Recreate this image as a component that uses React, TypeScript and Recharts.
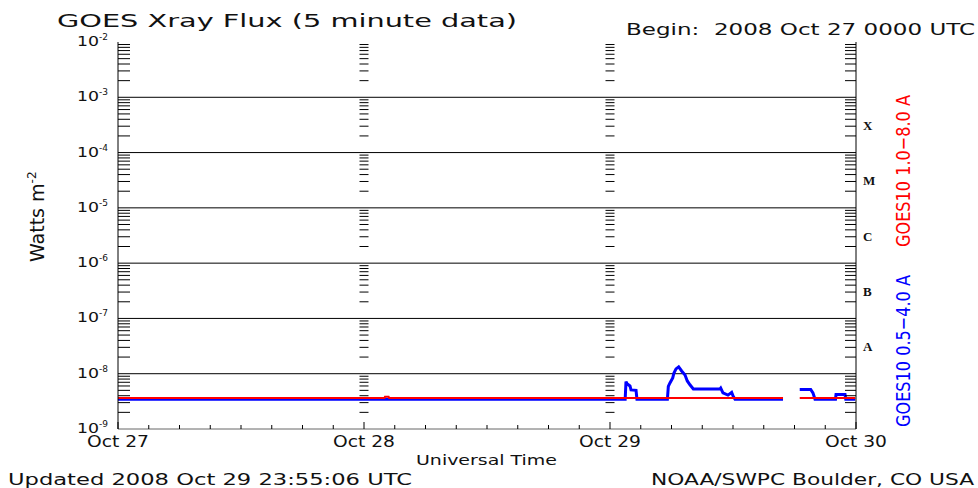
import { LineChart, Line, XAxis, YAxis, ReferenceLine, ReferenceDot } from 'recharts';

const WIDTH = 978;
const HEIGHT = 488;
const FONT = 'DejaVu Sans';
const INK = '#111';

// x values are hours since 2008 Oct 27 0000 UTC
const DAY_LABELS = ['Oct 27', 'Oct 28', 'Oct 29', 'Oct 30'];
const HOUR_TICKS = [
  0, 3, 6, 9, 12, 15, 18, 21, 24, 27, 30, 33, 36, 39, 42, 45, 48,
  51, 54, 57, 60, 63, 66, 69, 72,
];
const DECADES = [1e-9, 1e-8, 1e-7, 1e-6, 1e-5, 1e-4, 1e-3, 1e-2];
const FLARE_CLASSES = ['A', 'B', 'C', 'M', 'X'];
const CLASS_LEVELS = [3.16e-8, 3.16e-7, 3.16e-6, 3.16e-5, 3.16e-4];

// GOES10 0.5-4.0 A channel (null = data gap)
const shortHours = [
  0, 49.48, 49.56, 49.66, 49.95, 50.05, 50.54, 50.63,
  53.6, 53.69, 53.85, 54.12, 54.24, 54.44, 54.7, 54.99, 55.32, 55.54, 55.8, 56.13,
  58.73, 58.8, 59.02, 59.51, 59.87, 60.05, 60.2, 64.88,
  65.7,
  66.51, 67.58, 67.8, 68.0, 70.0, 70.05, 70.93, 71.0, 71.92,
];
const shortFlux = [
  3.45e-9, 3.45e-9, 7.2e-9, 6.6e-9, 6.0e-9, 5.1e-9, 5.0e-9, 3.45e-9,
  3.45e-9, 5.9e-9, 6.8e-9, 8.4e-9, 1.03e-8, 1.22e-8, 1.33e-8, 1.12e-8, 9.5e-9, 7.4e-9, 6.3e-9, 5.3e-9,
  5.3e-9, 5.5e-9, 4.5e-9, 4.1e-9, 4.6e-9, 3.8e-9, 3.45e-9, 3.45e-9,
  null,
  5.2e-9, 5.2e-9, 4.5e-9, 3.45e-9, 3.45e-9, 4.2e-9, 4.2e-9, 3.45e-9, 3.45e-9,
];

// GOES10 1.0-8.0 A channel
const longHours = [0, 26.0, 26.05, 26.4, 26.45, 64.88, 65.7, 66.51, 71.92];
const longFlux = [3.65e-9, 3.65e-9, 3.85e-9, 3.85e-9, 3.65e-9, 3.65e-9, null, 3.65e-9, 3.65e-9];

const shortData = shortHours.map((t, i) => ({ t, v: shortFlux[i] }));
const longData = longHours.map((t, i) => ({ t, v: longFlux[i] }));

// 2..9 x 10^n between each pair of decades
const MINOR_LEVELS = DECADES.slice(0, -1).flatMap(d => [2, 3, 4, 5, 6, 7, 8, 9].map(m => m * d));

const PowerTick = ({ x, y, payload }: any) => {
  const exp = Math.round(Math.log10(payload.value));
  return (
    <text x={x} y={y + 4} textAnchor="end" fontFamily={FONT} fontSize={14} fill={INK}>
      <tspan textLength={22} lengthAdjust="spacingAndGlyphs">10</tspan>
      <tspan dy={-6} fontSize={9}>{String(exp)}</tspan>
    </text>
  );
};

const ClassTick = ({ x, y, index }: any) => (
  <text
    x={x}
    y={y + 5}
    textAnchor="start"
    fontFamily="Liberation Serif"
    fontWeight="bold"
    fontSize={13}
    fill={INK}
  >
    {FLARE_CLASSES[index]}
  </text>
);

const BottomTick = ({ x, y, payload }: any) => {
  const isDay = payload.value % 24 === 0;
  return (
    <g>
      <line x1={x} x2={x} y1={y} y2={y - (isDay ? 7 : 4)} stroke="#000" />
      {isDay && (
        <text
          x={x}
          y={y + 18}
          textAnchor="middle"
          fontFamily={FONT}
          fontSize={15}
          fill={INK}
          textLength={62}
          lengthAdjust="spacingAndGlyphs"
        >
          {DAY_LABELS[payload.value / 24]}
        </text>
      )}
    </g>
  );
};

const TopTick = ({ x, y, payload }: any) => {
  const isDay = payload.value % 24 === 0;
  return <line x1={x} x2={x} y1={y} y2={y + (isDay ? 7 : 4)} stroke="#000" />;
};

// short horizontal tick marks; dir: 1 = pointing right, -1 = left, 0 = centred
const minorTick = (dir: number, len: number) => (p: any) => {
  const x1 = dir === 0 ? p.cx - len / 2 : p.cx;
  const x2 = dir === 0 ? p.cx + len / 2 : p.cx + dir * len;
  return <line x1={x1} x2={x2} y1={p.cy} y2={p.cy} stroke="#000" strokeWidth={1} />;
};

const TICK_COLUMNS = [
  { t: 0, shape: minorTick(1, 12) },
  { t: 24, shape: minorTick(0, 9) },
  { t: 48, shape: minorTick(0, 9) },
  { t: 72, shape: minorTick(-1, 11) },
];

export default function App() {
  return (
    <div style={{ position: 'relative', width: WIDTH, height: HEIGHT, background: '#fff' }}>
      <style>{'body{margin:0;background:#fff}'}</style>
      <LineChart width={WIDTH} height={HEIGHT} margin={{ top: 42, right: 0, bottom: 0, left: 0 }}>
        <XAxis
          dataKey="t"
          type="number"
          domain={[0, 72]}
          ticks={HOUR_TICKS}
          interval={0}
          height={59}
          tickSize={0}
          tickMargin={0}
          tick={<BottomTick />}
          axisLine={{ stroke: '#666' }}
          allowDataOverflow
        />
        <XAxis
          xAxisId="top"
          orientation="top"
          dataKey="t"
          type="number"
          domain={[0, 72]}
          ticks={HOUR_TICKS}
          interval={0}
          height={0}
          tickSize={0}
          tickMargin={0}
          tick={<TopTick />}
          axisLine={{ stroke: '#000' }}
          allowDataOverflow
        />
        <YAxis
          type="number"
          scale="log"
          domain={[1e-9, 1e-2]}
          ticks={DECADES}
          interval={0}
          width={118}
          tickSize={0}
          tickMargin={10}
          tick={<PowerTick />}
          axisLine={{ stroke: '#000' }}
          allowDataOverflow
        />
        <YAxis
          yAxisId="right"
          orientation="right"
          type="number"
          scale="log"
          domain={[1e-9, 1e-2]}
          ticks={CLASS_LEVELS}
          interval={0}
          width={122}
          tickSize={0}
          tickMargin={7}
          tick={<ClassTick />}
          axisLine={{ stroke: '#000' }}
          allowDataOverflow
        />
        {DECADES.slice(1, -1).map(d => (
          <ReferenceLine key={`g${d}`} y={d} stroke="#000" strokeWidth={1} />
        ))}
        {TICK_COLUMNS.flatMap(col =>
          MINOR_LEVELS.map(v => (
            <ReferenceDot key={`m${col.t}-${v}`} x={col.t} y={v} r={0} shape={col.shape} />
          ))
        )}
        <Line
          data={shortData}
          dataKey="v"
          stroke="#0000ff"
          strokeWidth={3}
          dot={false}
          activeDot={false}
          connectNulls={false}
          isAnimationActive={false}
        />
        <Line
          data={longData}
          dataKey="v"
          stroke="#ff0000"
          strokeWidth={2}
          dot={false}
          activeDot={false}
          connectNulls={false}
          isAnimationActive={false}
        />
      </LineChart>
      <svg
        width={WIDTH}
        height={HEIGHT}
        style={{ position: 'absolute', left: 0, top: 0, pointerEvents: 'none' }}
        fontFamily={FONT}
        fill={INK}
      >
        <text x={57} y={27} fontSize={18} textLength={460} lengthAdjust="spacingAndGlyphs">
          GOES Xray Flux (5 minute data)
        </text>
        <text
          x={626}
          y={35}
          fontSize={15}
          textLength={349}
          lengthAdjust="spacingAndGlyphs"
          style={{ whiteSpace: 'pre' }}
        >
          {'Begin:  2008 Oct 27 0000 UTC'}
        </text>
        <text x={44} y={262} fontSize={19} transform="rotate(-90 44 262)">
          Watts m
          <tspan dy={-8} fontSize={12}>-2</tspan>
        </text>
        <text
          x={910}
          y={247}
          fontSize={20}
          fill="#ff0000"
          textLength={152}
          lengthAdjust="spacingAndGlyphs"
          transform="rotate(-90 910 247)"
        >
          GOES10 1.0−8.0 A
        </text>
        <text
          x={910}
          y={427}
          fontSize={20}
          fill="#0000ff"
          textLength={152}
          lengthAdjust="spacingAndGlyphs"
          transform="rotate(-90 910 427)"
        >
          GOES10 0.5−4.0 A
        </text>
        <text x={416} y={465} fontSize={14} textLength={141} lengthAdjust="spacingAndGlyphs">
          Universal Time
        </text>
        <text x={8} y={485} fontSize={16} textLength={404} lengthAdjust="spacingAndGlyphs">
          Updated 2008 Oct 29 23:55:06 UTC
        </text>
        <text x={651} y={485} fontSize={16} textLength={323} lengthAdjust="spacingAndGlyphs">
          NOAA/SWPC Boulder, CO USA
        </text>
      </svg>
    </div>
  );
}
